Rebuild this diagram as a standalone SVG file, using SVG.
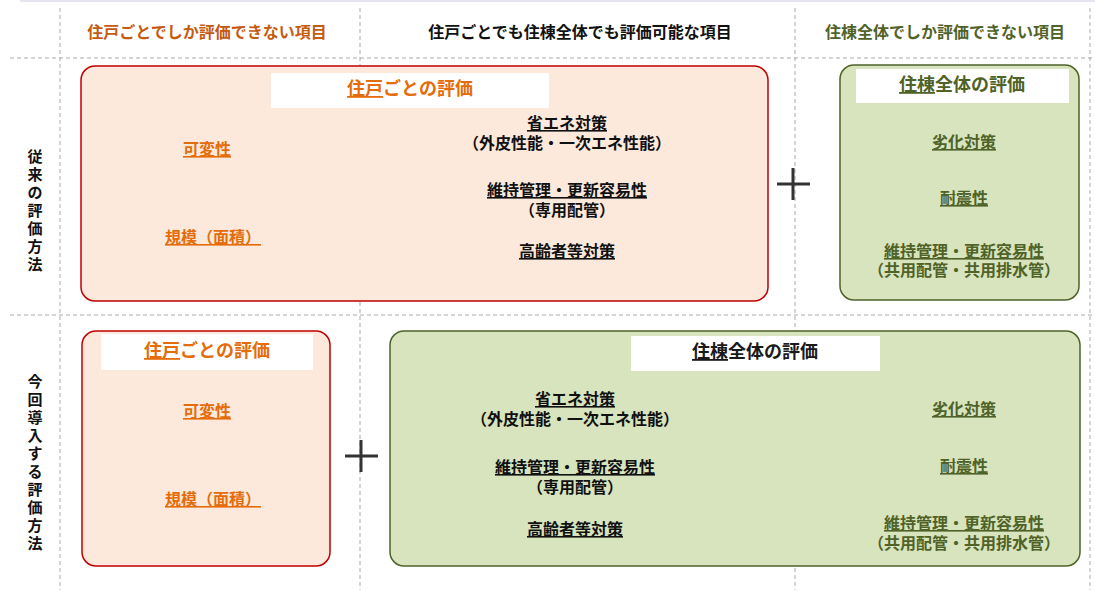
<svg xmlns="http://www.w3.org/2000/svg" width="1095" height="590" viewBox="0 0 1095 590">
<style>
text{font-family:"Noto Sans CJK JP","Noto Sans CJK SC",sans-serif;font-weight:bold;text-anchor:middle}
.g{stroke:#aaa;stroke-width:1;stroke-dasharray:4,3;fill:none}
.hd{font-size:16px}
.v{font-size:15px;fill:#111}
.o{fill:#E46C0A;font-size:16px}
.k{fill:#111;font-size:16px}
.gr{fill:#4F6228;font-size:16px}
.u{text-decoration:underline}
.t{font-size:18px}
.pk{fill:#FCE9DB;stroke:#C00000;stroke-width:1.5}
.gn{fill:#D7E4BD;stroke:#4F6228;stroke-width:1.5}
.pl{stroke:#333;stroke-width:3}
</style>
<rect width="1095" height="590" fill="#fff"/>
<g id="grid">
<line x1="20" y1="1" x2="1095" y2="1" stroke="#dde" stroke-width="1.5"/>
<line class="g" x1="60" y1="8" x2="60" y2="590"/>
<line class="g" x1="360" y1="8" x2="360" y2="590"/>
<line class="g" x1="795" y1="8" x2="795" y2="590"/>
<line class="g" x1="1090" y1="8" x2="1090" y2="590"/>
<line class="g" x1="10" y1="58" x2="1095" y2="58"/>
<line class="g" x1="10" y1="315" x2="1095" y2="315"/>
</g>
<g id="headers">
<text class="hd" x="207" y="38" fill="#C55A11">住戸ごとでしか評価できない項目</text>
<text class="hd" x="580" y="38" fill="#111">住戸ごとでも住棟全体でも評価可能な項目</text>
<text class="hd" x="945" y="38" fill="#4F6228">住棟全体でしか評価できない項目</text>
<text class="v" x="35" y="162">従</text><text class="v" x="35" y="180">来</text><text class="v" x="35" y="198">の</text><text class="v" x="35" y="216">評</text><text class="v" x="35" y="234">価</text><text class="v" x="35" y="252">方</text><text class="v" x="35" y="270">法</text>
<text class="v" x="35" y="387">今</text><text class="v" x="35" y="405">回</text><text class="v" x="35" y="423">導</text><text class="v" x="35" y="441">入</text><text class="v" x="35" y="459">す</text><text class="v" x="35" y="477">る</text><text class="v" x="35" y="495">評</text><text class="v" x="35" y="513">価</text><text class="v" x="35" y="531">方</text><text class="v" x="35" y="549">法</text>
</g>
<g id="n1">
<rect class="pk" x="81" y="66" width="687" height="235" rx="14"/>
<rect x="271" y="73" width="278" height="35" fill="#fff"/>
<text class="o t" x="410" y="95"><tspan class="u">住戸</tspan>ごとの評価</text>
<text class="o u" x="207" y="155">可変性</text>
<text class="o u" x="213" y="243">規模（面積）</text>
<text class="k u" x="567" y="129">省エネ対策</text>
<text class="k" x="567" y="149">（外皮性能・一次エネ性能）</text>
<text class="k u" x="567" y="196">維持管理・更新容易性</text>
<text class="k" x="567" y="216">（専用配管）</text>
<text class="k u" x="567" y="257">高齢者等対策</text>
</g>
<g id="n2">
<rect class="gn" x="840" y="65" width="239" height="235" rx="14"/>
<rect x="856" y="69" width="213" height="34" fill="#fff"/>
<text class="gr t" x="962" y="91"><tspan class="u">住棟</tspan>全体の評価</text>
<text class="gr u" x="964" y="148">劣化対策</text>
<text class="gr u" x="964" y="204">耐震性</text>
<text class="gr u" x="964" y="257">維持管理・更新容易性</text>
<text class="gr" x="964" y="276">（共用配管・共用排水管）</text>
</g>
<g id="n3">
<rect class="pk" x="82" y="331" width="248" height="235" rx="14"/>
<rect x="101" y="334" width="212" height="36" fill="#fff"/>
<text class="o t" x="207" y="357"><tspan class="u">住戸</tspan>ごとの評価</text>
<text class="o u" x="207" y="417">可変性</text>
<text class="o u" x="213" y="505">規模（面積）</text>
</g>
<g id="n4">
<rect class="gn" x="390" y="331" width="690" height="235" rx="14"/>
<rect x="631" y="336" width="249" height="35" fill="#fff"/>
<text class="t" x="755" y="358" fill="#1a1a1a"><tspan class="u">住棟</tspan>全体の評価</text>
<text class="k u" x="575" y="405">省エネ対策</text>
<text class="k" x="575" y="425">（外皮性能・一次エネ性能）</text>
<text class="k u" x="575" y="473">維持管理・更新容易性</text>
<text class="k" x="575" y="493">（専用配管）</text>
<text class="k u" x="575" y="535">高齢者等対策</text>
<text class="gr u" x="964" y="415">劣化対策</text>
<text class="gr u" x="964" y="472">耐震性</text>
<text class="gr u" x="964" y="529">維持管理・更新容易性</text>
<text class="gr" x="964" y="549">（共用配管・共用排水管）</text>
</g>
<g id="connectors">
<line class="pl" x1="777" y1="184" x2="810" y2="184"/>
<line class="pl" x1="793" y1="168" x2="793" y2="200"/>
<line class="pl" x1="345" y1="456" x2="378" y2="456"/>
<line class="pl" x1="361" y1="440" x2="361" y2="472"/>
</g>
</svg>
